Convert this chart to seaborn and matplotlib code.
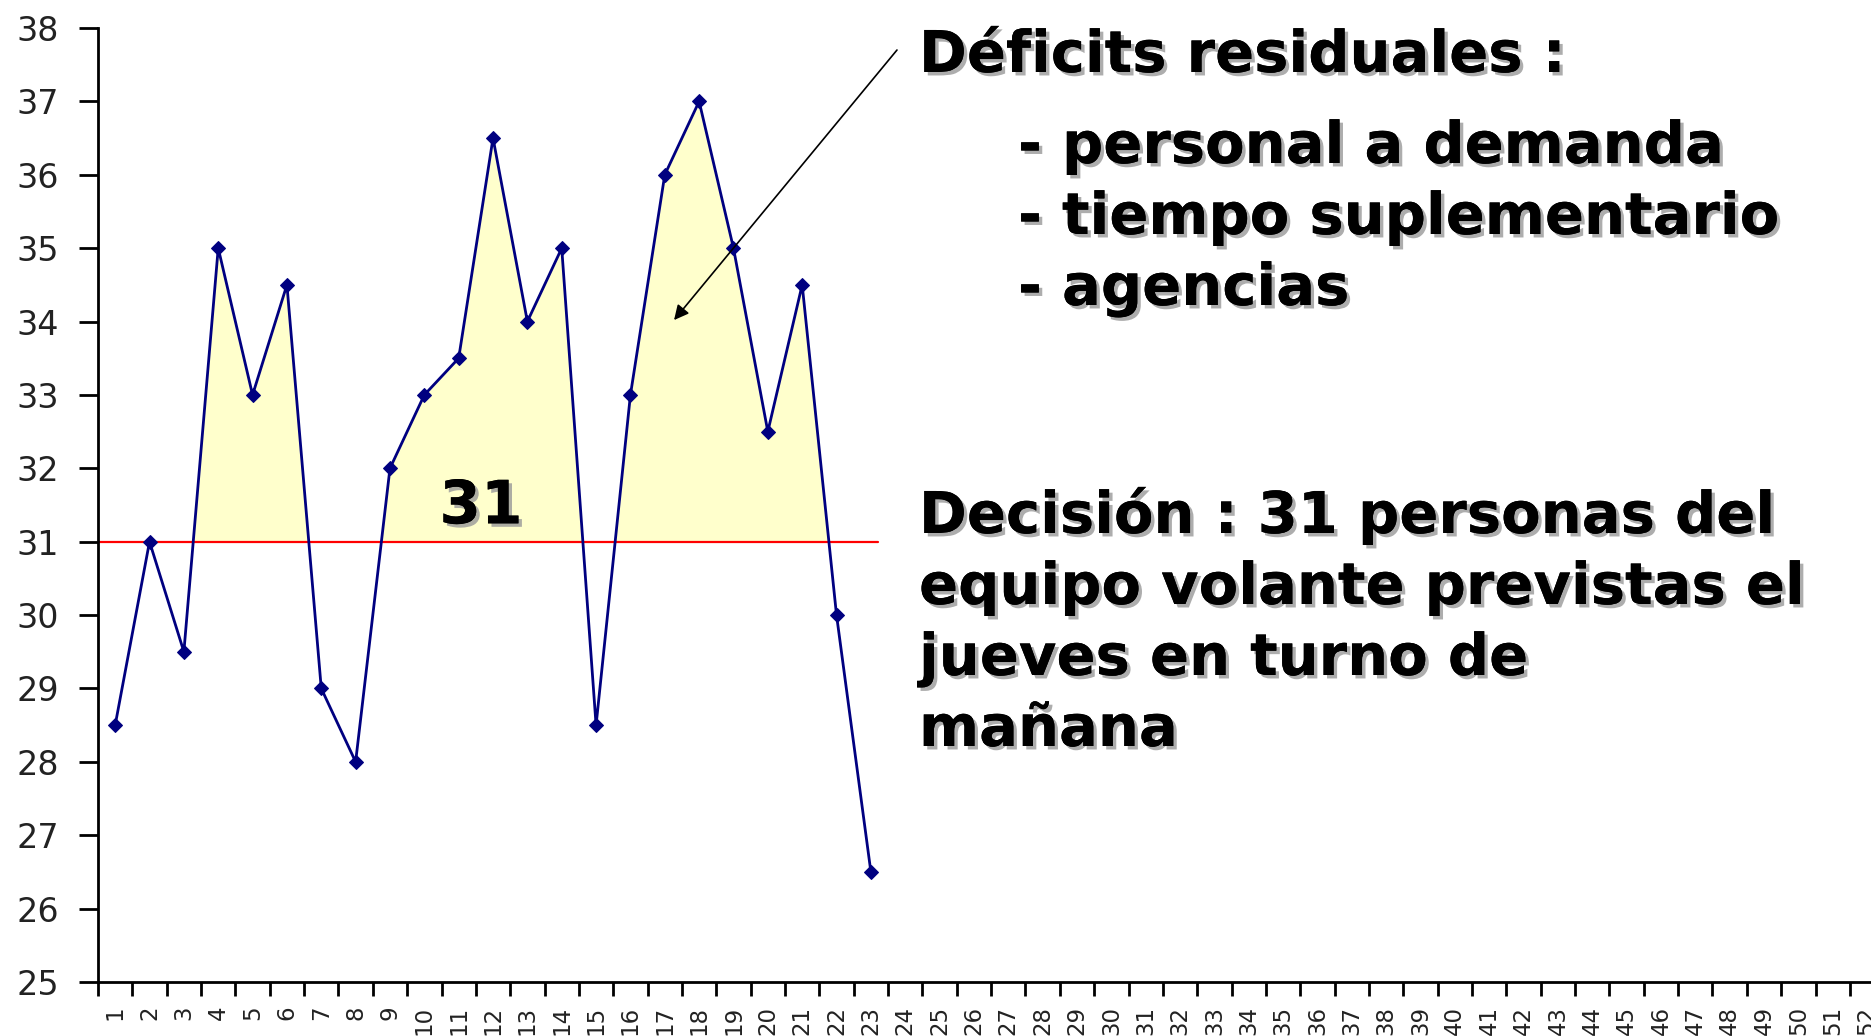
import matplotlib
matplotlib.use("Agg")
import matplotlib.pyplot as plt
import matplotlib.patheffects as pe
from matplotlib import font_manager
import numpy as np
import pandas as pd
import seaborn as sns

# ---- data ----
semanas = list(range(1, 24))
personas = [28.5, 31, 29.5, 35, 33, 34.5, 29, 28, 32, 33, 33.5, 36.5, 34,
            35, 28.5, 33, 36, 37, 35, 32.5, 34.5, 30, 26.5]
umbral = 31
x_labels = [str(i) for i in range(1, 53)]
y_ticks = list(range(25, 39))

titulo = "Déficits residuales :"
lista = ["- personal a demanda", "- tiempo suplementario", "- agencias"]
decision = ["Decisión : 31 personas del", "equipo volante previstas el",
            "jueves en turno de", "mañana"]

df = pd.DataFrame({"semana": semanas, "personas": personas})

sns.set_style("white")
plt.rcParams["font.family"] = ["DejaVu Sans"]

# narrow font for the x tick labels if available
try:
    font_manager.findfont("Liberation Sans Narrow", fallback_to_default=False)
    xfam, xfs = ["Liberation Sans Narrow"], 20
except Exception:
    xfam, xfs = ["DejaVu Sans"], 16.5

W, H = 1871, 1036
fig = plt.figure(figsize=(W / 100, H / 100), dpi=100)
left_px, right_px = 98, 98 + 52 * 34.35
top_px, bottom_px = 28, 982
ax = fig.add_axes([left_px / W, 1 - bottom_px / H,
                   (right_px - left_px) / W, (bottom_px - top_px) / H])

x = np.array(semanas, dtype=float)
y = np.array(personas, dtype=float)
ax.fill_between(x, y, umbral, where=y > umbral, interpolate=True,
                color="#FFFFCC", linewidth=0, zorder=1)
ax.plot([0.5, 23.2], [umbral, umbral], color="#FF0000", lw=1.6, zorder=2)
sns.lineplot(data=df, x="semana", y="personas", ax=ax, color="#000080",
             lw=2, marker="D", markersize=7, markeredgecolor="#000080",
             zorder=3)

ax.set_xlim(0.5, 52.5)
ax.set_ylim(25, 38)
ax.set_yticks(y_ticks)
ax.set_yticklabels([str(t) for t in y_ticks], fontsize=24, color="#222222")
ax.set_xticks(np.arange(1, 53))
ax.set_xticklabels(x_labels, rotation=90, fontsize=xfs, va="top",
                   family=xfam, color="#222222")
ax.set_xticks(np.arange(0.5, 53), minor=True)
ax.tick_params(axis="x", which="major", bottom=True, length=0, pad=17)
ax.tick_params(axis="x", which="minor", bottom=True, length=10, width=2,
               color="black", direction="out")
ax.tick_params(axis="y", left=True, length=14, width=2, color="black",
               direction="out", pad=14)
ax.set_xlabel("")
ax.set_ylabel("")
for s in ["top", "right"]:
    ax.spines[s].set_visible(False)
for s in ["left", "bottom"]:
    ax.spines[s].set_color("black")
    ax.spines[s].set_linewidth(2)

shadow = [pe.withSimplePatchShadow(offset=(2.5, -2.5), shadow_rgbFace="#999999",
                                   alpha=0.8), pe.Normal()]

ax.text(11.65, 31.25, "31", fontsize=43, fontweight="bold", ha="center",
        va="baseline", color="black", path_effects=shadow, zorder=5)

ax.annotate("", xy=(17.27, 34.02), xytext=(23.76, 37.7),
            arrowprops=dict(arrowstyle="-|>", color="black", lw=1.2,
                            mutation_scale=22, shrinkA=0, shrinkB=0))

fs = 41.5
fig.text(919 / W, 1 - 72 / H, titulo, fontsize=fs, fontweight="bold",
         ha="left", va="baseline", color="black", path_effects=shadow)
for i, t in enumerate(lista):
    fig.text(1018 / W, 1 - (163 + 71 * i) / H, t, fontsize=fs,
             fontweight="bold", ha="left", va="baseline", color="black",
             path_effects=shadow)
for i, t in enumerate(decision):
    fig.text(919 / W, 1 - (533 + 71 * i) / H, t, fontsize=fs,
             fontweight="bold", ha="left", va="baseline", color="black",
             path_effects=shadow)

fig.savefig("out.png", dpi=100, facecolor="white")
